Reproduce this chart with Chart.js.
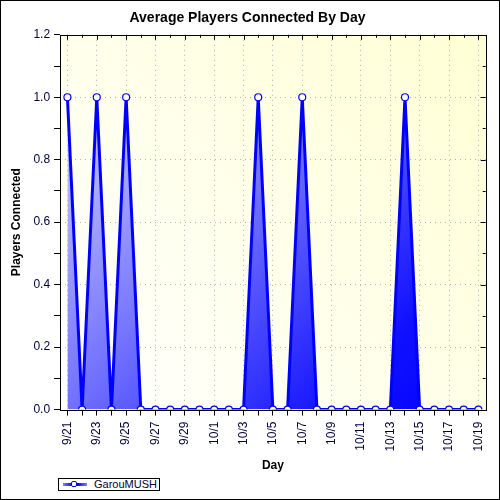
<!DOCTYPE html>
<html>
<head>
<meta charset="utf-8">
<script src="https://cdn.jsdelivr.net/npm/chart.js@4"></script>
<style>
  body { margin: 0; background: #fff; }
  #wrap { position: relative; width: 500px; height: 500px; box-sizing: border-box; border: 1px solid #000; background: #fff; }
  #legend { position: absolute; left: 57px; top: 477px; width: 102px; height: 13px; box-sizing: border-box; border: 1px solid #000; background: #fff; font: 11px Arial, "Liberation Sans", sans-serif; color: #000040; }
  #legend .sym { position: absolute; left: 4px; top: 4px; width: 24px; height: 3px; background: linear-gradient(to right, #8080ff, #0000ff 40%, #0000ff 60%, #8080ff); }
  #legend .dot { position: absolute; left: 12px; top: 2px; width: 6px; height: 6px; box-sizing: border-box; border: 1px solid #0000ff; background: #fff; border-radius: 2px; }
  #legend .txt { position: absolute; left: 35px; top: -1px; line-height: 13px; }
</style>
</head>
<body>
<div id="wrap">
  <canvas id="chart" width="498" height="498"></canvas>
  <div id="legend"><span class="sym"></span><span class="dot"></span><span class="txt">GarouMUSH</span></div>
</div>
<script>
// data
const days = ['9/21', '9/22', '9/23', '9/24', '9/25', '9/26', '9/27', '9/28', '9/29', '9/30',
  '10/1', '10/2', '10/3', '10/4', '10/5', '10/6', '10/7', '10/8', '10/9', '10/10',
  '10/11', '10/12', '10/13', '10/14', '10/15', '10/16', '10/17', '10/18', '10/19'];
const players = [1, 0, 1, 0, 1, 0, 0, 0, 0, 0,
  0, 0, 0, 1, 0, 0, 1, 0, 0, 0,
  0, 0, 0, 1, 0, 0, 0, 0, 0];
const seriesName = 'GarouMUSH';

const tickColor = '#000040';
const dotted = 'rgba(170,170,170,0.9)';

const plotBg = {
  id: 'plotBg',
  beforeDraw(chart) {
    const { ctx, chartArea: a } = chart;
    const g = ctx.createLinearGradient(a.left, a.bottom, a.right, a.top);
    g.addColorStop(0, '#ffffff');
    g.addColorStop(1, '#ffffd4');
    ctx.save();
    ctx.fillStyle = g;
    ctx.fillRect(a.left, a.top, a.right - a.left, a.bottom - a.top);
    ctx.restore();
  },
  afterDraw(chart) {
    const { ctx, chartArea: a } = chart;
    ctx.save();
    ctx.strokeStyle = '#000';
    ctx.lineWidth = 1;
    ctx.strokeRect(Math.round(a.left) + 0.5, Math.round(a.top) + 0.5,
      Math.round(a.right - a.left), Math.round(a.bottom - a.top));
    // inner tick marks on right and top sides
    const y = chart.scales.y, x = chart.scales.x;
    ctx.beginPath();
    y.ticks.forEach((t, i) => {
      const py = Math.round(y.getPixelForValue(t.value)) + 0.5;
      const len = i % 2 === 0 ? 5 : 3;
      ctx.moveTo(a.right, py); ctx.lineTo(a.right - len, py);
    });
    x.ticks.forEach((t, i) => {
      const px = Math.round(x.getPixelForTick(i)) + 0.5;
      const len = i % 2 === 0 ? 5 : 3;
      ctx.moveTo(px, a.top); ctx.lineTo(px, a.top + len);
    });
    ctx.stroke();
    ctx.restore();
  }
};

new Chart(document.getElementById('chart'), {
  type: 'line',
  data: {
    labels: days,
    datasets: [{
      label: seriesName,
      data: players,
      borderColor: '#0000ff',
      borderWidth: 3,
      tension: 0,
      fill: 'origin',
      backgroundColor(ctx) {
        const a = ctx.chart.chartArea;
        if (!a) return 'rgba(0,0,255,0.5)';
        const g = ctx.chart.ctx.createLinearGradient(a.left, a.top, a.right, a.bottom);
        g.addColorStop(0, '#e4e4ff');
        g.addColorStop(0.45, '#7070ff');
        g.addColorStop(0.8, '#1010ff');
        g.addColorStop(1, '#0000ff');
        return g;
      },
      pointRadius: 3.5,
      pointBackgroundColor: '#fff',
      pointBorderColor: '#0000ff',
      pointBorderWidth: 1.2
    }]
  },
  options: {
    responsive: false,
    animation: false,
    layout: { padding: { left: 8, right: 13, top: 0, bottom: 26 } },
    plugins: {
      legend: { display: false },
      tooltip: { enabled: false },
      title: {
        display: true,
        text: 'Average Players Connected By Day',
        color: '#000',
        font: { family: 'Arial, "Liberation Sans"', size: 14, weight: 'bold' },
        padding: { top: 9, bottom: 8 }
      }
    },
    scales: {
      x: {
        offset: true,
        grid: {
          color: c => (c.index % 2 === 0 ? dotted : 'rgba(0,0,0,0)'),
          tickColor: '#000',
          tickLength: 6,
          offset: false
        },
        border: { display: false, dash: [1, 4] },
        ticks: {
          autoSkip: false,
          maxRotation: 90,
          minRotation: 90,
          color: tickColor,
          font: { family: 'Arial, "Liberation Sans"', size: 12 },
          padding: 6,
          callback: (v, i) => (i % 2 === 0 ? days[i] : '')
        },
        title: {
          display: true,
          text: 'Day',
          color: '#000',
          font: { family: 'Arial, "Liberation Sans"', size: 12, weight: 'bold' },
          padding: { top: 1, bottom: 0 }
        }
      },
      y: {
        min: 0,
        max: 1.2,
        grid: {
          color: c => (c.index % 2 === 0 && c.index > 0 && c.index < 12 ? dotted : 'rgba(0,0,0,0)'),
          tickColor: '#000',
          tickLength: 6
        },
        border: { display: false, dash: [1, 4] },
        ticks: {
          stepSize: 0.1,
          color: tickColor,
          font: { family: 'Arial, "Liberation Sans"', size: 12 },
          padding: 4,
          callback: (v, i) => (i % 2 === 0 ? Number(v).toFixed(1) : '')
        },
        title: {
          display: true,
          text: 'Players Connected',
          color: '#000',
          font: { family: 'Arial, "Liberation Sans"', size: 12, weight: 'bold' },
          padding: { top: 0, bottom: 6 }
        }
      }
    }
  },
  plugins: [plotBg]
});
</script>
</body>
</html>
